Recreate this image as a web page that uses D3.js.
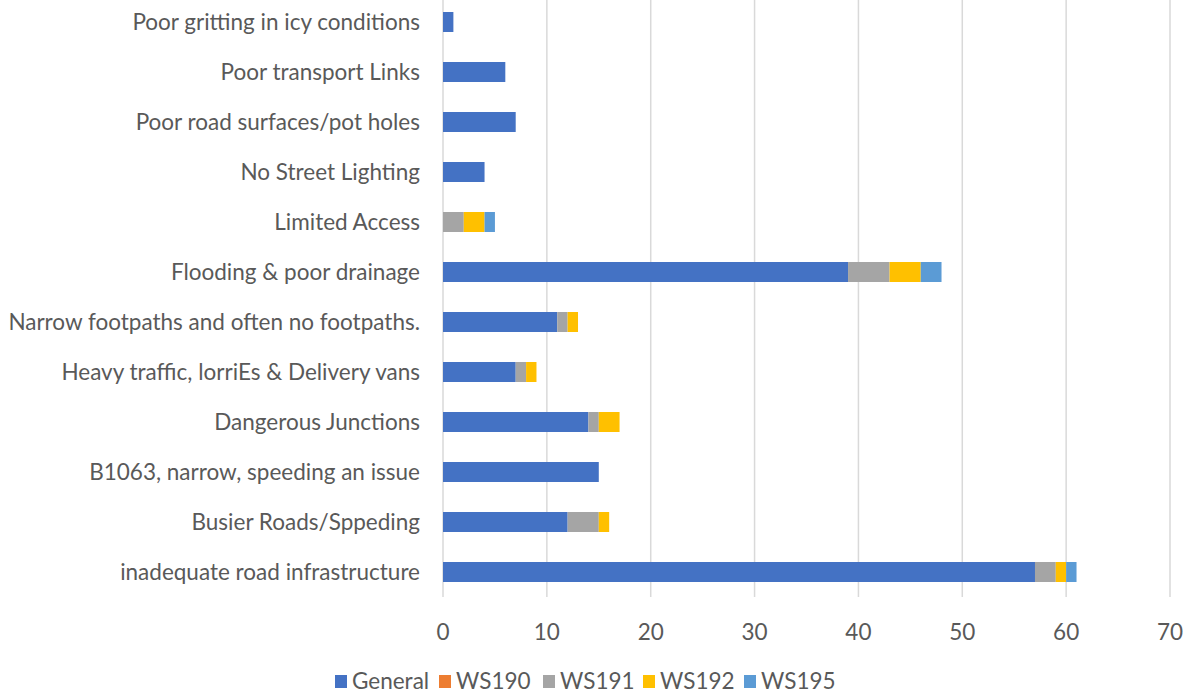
<!DOCTYPE html>
<html>
<head>
<meta charset="utf-8">
<script src="https://d3js.org/d3.v7.min.js"></script>
<style>
body { margin: 0; background: #fff; }
text { font-family: Lato, "Open Sans", sans-serif; fill: #595959; }
</style>
</head>
<body>
<div id="chart"></div>
<script>
// categories from top to bottom
var categories = [
    "Poor gritting in icy conditions",
    "Poor transport Links",
    "Poor road surfaces/pot holes",
    "No Street Lighting",
    "Limited Access",
    "Flooding & poor drainage",
    "Narrow footpaths and often no footpaths.",
    "Heavy traffic, lorriEs & Delivery vans",
    "Dangerous Junctions",
    "B1063, narrow, speeding an issue",
    "Busier Roads/Sppeding",
    "inadequate road infrastructure"
];
var seriesNames = ["General", "WS190", "WS191", "WS192", "WS195"];
var general = [1, 6, 7, 4, 0, 39, 11, 7, 14, 15, 12, 57];
var ws190   = [0, 0, 0, 0, 0, 0, 0, 0, 0, 0, 0, 0];
var ws191   = [0, 0, 0, 0, 2, 4, 1, 1, 1, 0, 3, 2];
var ws192   = [0, 0, 0, 0, 2, 3, 1, 1, 2, 0, 1, 1];
var ws195   = [0, 0, 0, 0, 1, 2, 0, 0, 0, 0, 0, 1];
var xTicks = [0, 10, 20, 30, 40, 50, 60, 70];
var colors = ["#4472C4", "#ED7D31", "#A5A5A5", "#FFC000", "#5B9BD5"];

var rows = categories.map(function(c, i){
    return {cat: c, General: general[i], WS190: ws190[i], WS191: ws191[i], WS192: ws192[i], WS195: ws195[i]};
});

var W = 1195, H = 697;
var svg = d3.select("#chart").append("svg").attr("width", W).attr("height", H);

var x = d3.scaleLinear().domain([0, 70]).range([443, 1170]);
var y = d3.scaleBand().domain(categories).range([-3, 597]).paddingInner(0.6).paddingOuter(0.3);

// gridlines
svg.append("g").selectAll("line").data(xTicks).enter().append("line")
    .attr("x1", function(d){ return x(d); }).attr("x2", function(d){ return x(d); })
    .attr("y1", 0).attr("y2", 597)
    .attr("stroke", "#d9d9d9").attr("stroke-width", 1.5);

var stack = d3.stack().keys(seriesNames)(rows);
var color = d3.scaleOrdinal().domain(seriesNames).range(colors);

svg.append("g").selectAll("g").data(stack).enter().append("g")
    .attr("fill", function(d){ return color(d.key); })
    .selectAll("rect").data(function(d){ return d; }).enter().append("rect")
    .attr("x", function(d){ return x(d[0]); })
    .attr("width", function(d){ return x(d[1]) - x(d[0]); })
    .attr("y", function(d){ return y(d.data.cat); })
    .attr("height", y.bandwidth());

// x tick labels
svg.append("g").selectAll("text").data(xTicks).enter().append("text")
    .attr("x", function(d){ return x(d); }).attr("y", 640)
    .attr("text-anchor", "middle").attr("font-size", 22.5)
    .text(function(d){ return d; });

// category labels
svg.append("g").selectAll("text").data(categories).enter().append("text")
    .attr("x", 420).attr("y", function(d){ return y(d) + y.bandwidth()/2 + 8; })
    .attr("text-anchor", "end").attr("font-size", 22.5)
    .text(function(d){ return d; });

// legend
var legX = [335, 439, 543, 643, 744];
var leg = svg.append("g").selectAll("g").data(seriesNames).enter().append("g")
    .attr("transform", function(d, i){ return "translate(" + legX[i] + ",681)"; });
leg.append("rect").attr("x", 0).attr("y", -6).attr("width", 12).attr("height", 13)
    .attr("fill", function(d){ return color(d); });
leg.append("text").attr("x", 17).attr("y", 8).attr("font-size", 22.5)
    .text(function(d){ return d; });
</script>
</body>
</html>
